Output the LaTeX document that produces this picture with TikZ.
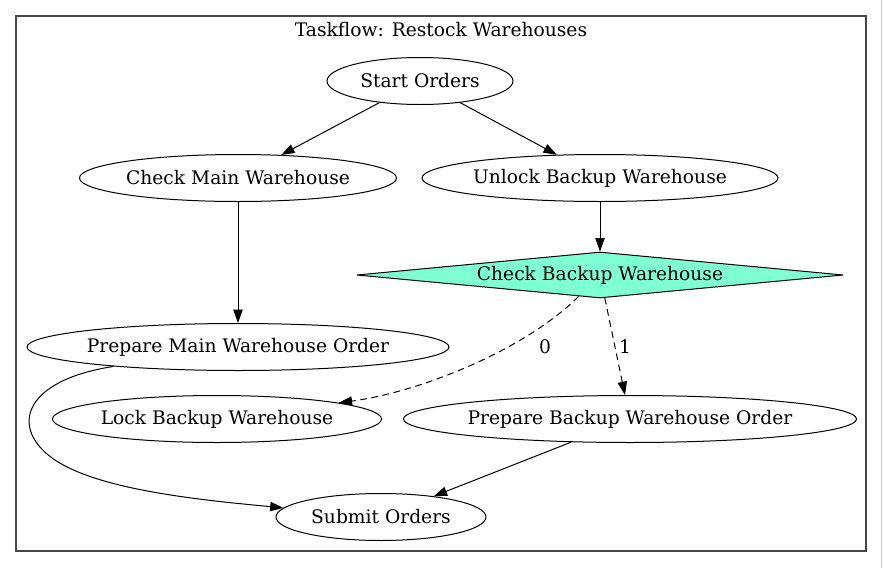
\documentclass[tikz,border=0pt]{standalone}
\usepackage{fontspec}
\setmainfont{DejaVu Serif}
\usepackage{xcolor}
\usetikzlibrary{arrows.meta, shapes.geometric, positioning}
\definecolor{TaskAqua}{HTML}{7FFFD4}
\definecolor{ClusterGray}{RGB}{70,70,70}
\tikzset{
  >={Triangle[length=10pt,width=7pt]},
  % Nodi del flusso
  task/.style={draw,ellipse,line width=0.75pt,inner ysep=0pt,inner xsep=-1.6pt,
    minimum height=35.25pt,font=\fontsize{14}{17}\selectfont},
  task w/.style={minimum width=#1*0.75pt},
  task cond/.style={draw,diamond,line width=0.75pt,inner sep=0pt,fill=TaskAqua,
    aspect=10.6,minimum width=365pt,minimum height=34.5pt,font=\fontsize{14}{17}\selectfont},
  % Connessioni
  flow/.style={->,line width=0.75pt},
  flow cond/.style={flow,dashed,dash pattern=on 5pt off 3.5pt},
  edge label/.style={font=\fontsize{14}{17}\selectfont,inner sep=1pt}
}
\begin{document}
\begin{tikzpicture}[x=0.75pt,y=-0.75pt]
  \useasboundingbox (0,0) rectangle (883,568);
  \draw[gray!45,line width=0.75pt] (881.5,0)--(881.5,568);
  % cluster
  \draw[ClusterGray,line width=1pt] (16,16) rectangle (866,551);
  \node[font=\fontsize{14}{17}\selectfont] (title) at (441,30) {Taskflow: Restock Warehouses};
  % nodes
  \node[task,task w=186] (start) at (420,81) {Start Orders};
  \node[task,task w=317] (checkmain) at (238,178) {Check Main Warehouse};
  \node[task,task w=356] (unlock) at (600,178) {Unlock Backup Warehouse};
  \node[task cond] (checkbackup) at (600,275) {Check Backup Warehouse};
  \node[task,task w=422] (prepmain) at (238,347) {Prepare Main Warehouse Order};
  \node[task,task w=329] (lock) at (217,419) {Lock Backup Warehouse};
  \node[task,task w=450] (prepbackup) at (630,419) {Prepare Backup Warehouse Order};
  \node[task,task w=210] (submit) at (381,517) {Submit Orders};
  % edges
  \draw[flow] (start) -- (checkmain);
  \draw[flow] (start) -- (unlock);
  \draw[flow] (checkmain) -- (prepmain);
  \draw[flow] (unlock) -- (checkbackup);
  \draw[flow cond] (checkbackup) .. controls (525,350) and (420,392) .. (lock);
  \draw[flow cond] (checkbackup) -- (prepbackup);
  \node[edge label] (lbl0) at (545,347) {0};
  \node[edge label] (lbl1) at (625,347) {1};
  \draw[flow] (prepmain) .. controls (20,381) and (10,430) .. (55,460)
    .. controls (100,490) and (200,500) .. (submit);
  \draw[flow] (prepbackup) -- (submit);
\end{tikzpicture}
\end{document}
